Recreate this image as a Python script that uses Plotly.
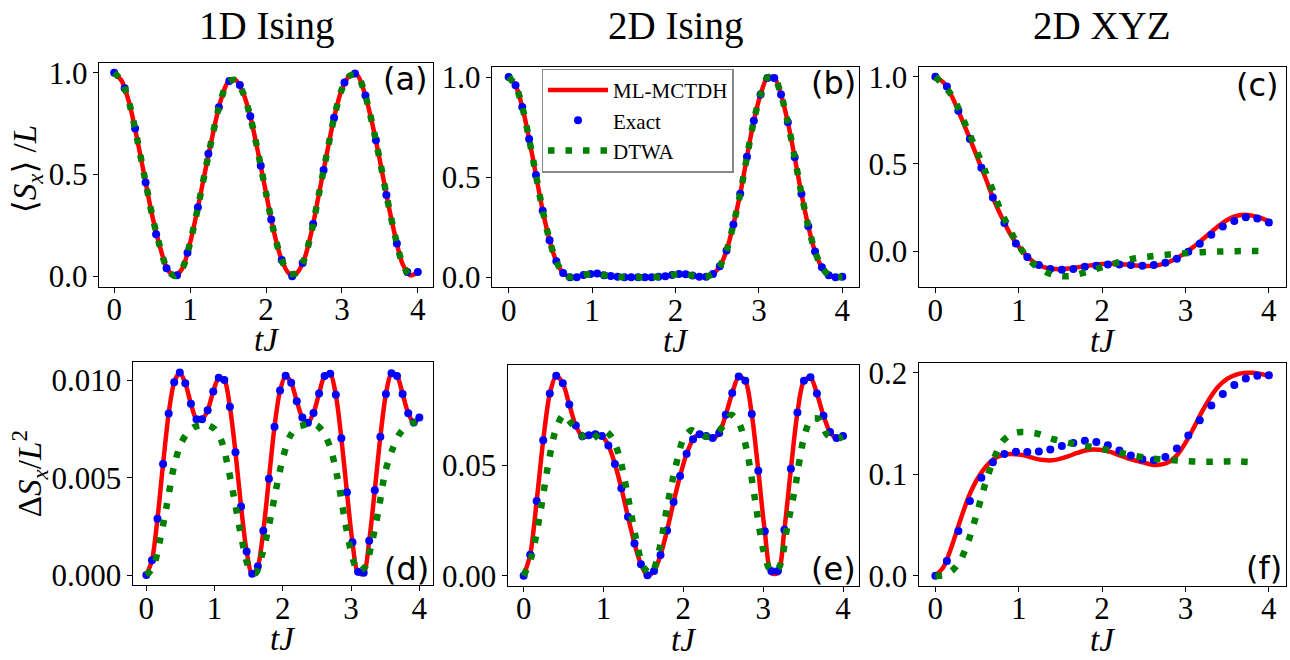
import plotly.graph_objects as go

W, H = 1290, 660

# ---------------- time grids (tJ) ----------------
T30 = [0.0, 0.138, 0.276, 0.414, 0.552, 0.69, 0.828, 0.966, 1.103, 1.241, 1.379, 1.517,
       1.655, 1.793, 1.931, 2.069, 2.207, 2.345, 2.483, 2.621, 2.759, 2.897, 3.034, 3.172,
       3.31, 3.448, 3.586, 3.724, 3.862, 4.0]
T50 = [0.0, 0.082, 0.163, 0.245, 0.327, 0.408, 0.49, 0.571, 0.653, 0.735, 0.816, 0.898,
       0.98, 1.061, 1.143, 1.224, 1.306, 1.388, 1.469, 1.551, 1.633, 1.714, 1.796, 1.878,
       1.959, 2.041, 2.122, 2.204, 2.286, 2.367, 2.449, 2.531, 2.612, 2.694, 2.776, 2.857,
       2.939, 3.02, 3.102, 3.184, 3.265, 3.347, 3.429, 3.51, 3.592, 3.673, 3.755, 3.837,
       3.918, 4.0]
T41 = [0.0, 0.1, 0.2, 0.3, 0.4, 0.5, 0.6, 0.7, 0.8, 0.9, 1.0, 1.1, 1.2, 1.3, 1.4, 1.5,
       1.6, 1.7, 1.8, 1.9, 2.0, 2.1, 2.2, 2.3, 2.4, 2.5, 2.6, 2.7, 2.8, 2.9, 3.0, 3.1, 3.2,
       3.3, 3.4, 3.5, 3.6, 3.7, 3.8, 3.9, 4.0]
T21 = [0.0, 0.2, 0.4, 0.6, 0.8, 1.0, 1.2, 1.4, 1.6, 1.8, 2.0, 2.2, 2.4, 2.6, 2.8, 3.0,
       3.2, 3.4, 3.6, 3.8, 4.0]
TF_DTWA = [0.0, 0.1, 0.2, 0.3, 0.4, 0.5, 0.6, 0.7, 0.8, 0.9, 1.0, 1.2, 1.4, 1.6, 1.8, 2.0,
           2.2, 2.4, 2.6, 2.8, 3.0, 3.2, 3.4, 3.6, 3.84]

# ---------------- (a) 1D Ising <Sx>/L ----------------
A_MCTDH = [1.0, 0.96, 0.85, 0.68, 0.49, 0.30, 0.15, 0.035, 0.002, 0.04, 0.165, 0.333, 0.52,
           0.70, 0.86, 0.955, 0.965, 0.90, 0.775, 0.60, 0.41, 0.225, 0.088, 0.015, 0.015,
           0.08, 0.22, 0.41, 0.60, 0.785, 0.92, 0.985, 0.99, 0.90, 0.75, 0.57, 0.375, 0.20,
           0.06, 0.005, 0.02]
A_EXACT = [1.0, 0.925, 0.726, 0.461, 0.207, 0.040, 0.005, 0.116, 0.339, 0.602, 0.831, 0.960,
           0.941, 0.787, 0.543, 0.279, 0.080, 0.0, 0.066, 0.257, 0.522, 0.780, 0.953, 0.997,
           0.889, 0.669, 0.400, 0.161, 0.021, 0.021]
A_DTWA = [1.0, 0.96, 0.85, 0.68, 0.49, 0.30, 0.15, 0.035, 0.002, 0.04, 0.165, 0.333, 0.52,
          0.70, 0.86, 0.955, 0.965, 0.90, 0.775, 0.60, 0.41, 0.225, 0.088, 0.015, 0.015,
          0.08, 0.22, 0.41, 0.60, 0.785, 0.92, 0.985, 0.99, 0.90, 0.75, 0.57, 0.375, 0.20,
          0.06, 0.005, 0.02]

# ---------------- (b) 2D Ising <Sx>/L ----------------
B_EXACT = [1.0, 0.959, 0.851, 0.691, 0.511, 0.332, 0.185, 0.079, 0.021, 0.0, 0.0, 0.011,
           0.016, 0.018, 0.010, 0.0065, 0.002, 0.0, 0.0, 0.0, 0.0, 0.0, 0.002, 0.005, 0.011,
           0.016, 0.015, 0.008, 0.002, 0.002, 0.016, 0.054, 0.133, 0.263, 0.417, 0.602,
           0.782, 0.913, 0.995, 0.995, 0.913, 0.774, 0.599, 0.417, 0.255, 0.128, 0.049,
           0.010, 0.0, 0.002]
B_MCTDH = [1.0, 0.959, 0.851, 0.691, 0.511, 0.332, 0.185, 0.079, 0.021, 0.0, 0.0, 0.011,
           0.016, 0.018, 0.010, 0.0065, 0.002, 0.0, 0.0, 0.0, 0.0, 0.0, 0.002, 0.005, 0.011,
           0.016, 0.015, 0.008, 0.002, 0.002, 0.016, 0.054, 0.133, 0.263, 0.417, 0.602,
           0.782, 0.913, 0.998, 0.998, 0.913, 0.774, 0.599, 0.417, 0.255, 0.128, 0.049,
           0.010, 0.0, 0.002]
B_DTWA = [1.0, 0.959, 0.851, 0.691, 0.511, 0.332, 0.185, 0.079, 0.021, 0.0, 0.0, 0.011,
          0.016, 0.018, 0.010, 0.0065, 0.002, 0.0, 0.0, 0.0, 0.0, 0.0, 0.002, 0.005, 0.011,
          0.016, 0.015, 0.008, 0.002, 0.002, 0.016, 0.054, 0.133, 0.263, 0.417, 0.602,
          0.782, 0.913, 0.998, 0.998, 0.913, 0.774, 0.599, 0.417, 0.255, 0.128, 0.049,
          0.010, 0.0, 0.002]

# ---------------- (c) 2D XYZ <Sx>/L ----------------
C_MCTDH = [1.0, 0.965, 0.885, 0.775, 0.66, 0.54, 0.42, 0.295, 0.19, 0.095, 0.025, -0.03,
           -0.07, -0.092, -0.102, -0.104, -0.10, -0.094, -0.087, -0.08, -0.075, -0.073,
           -0.074, -0.078, -0.083, -0.086, -0.085, -0.078, -0.063, -0.04, -0.01, 0.025,
           0.065, 0.105, 0.145, 0.178, 0.20, 0.208, 0.203, 0.19, 0.17]
C_EXACT = [1.0, 0.944, 0.804, 0.643, 0.477, 0.307, 0.161, 0.043, -0.034, -0.080, -0.103,
           -0.107, -0.103, -0.090, -0.084, -0.077, -0.077, -0.080, -0.084, -0.080, -0.067,
           -0.045, -0.004, 0.041, 0.093, 0.140, 0.172, 0.193, 0.187, 0.164]
C_DTWA = [1.0, 0.89, 0.68, 0.455, 0.215, 0.03, -0.085, -0.135, -0.145, -0.122, -0.092,
          -0.064, -0.042, -0.03, -0.02, -0.013, -0.007, -0.003, -0.001, 0.0, 0.0]

# ---------------- (d) 1D Ising dSx/L^2 ----------------
D_EXACT = [0.0, 0.00076, 0.0029, 0.0057, 0.0083, 0.0099, 0.0104, 0.00985, 0.0088, 0.0080,
           0.0080, 0.00846, 0.00943, 0.01013, 0.01002, 0.00864, 0.00631, 0.00352, 0.00121,
           0.00007, 0.00045, 0.00228, 0.00495, 0.00762, 0.00948, 0.01023, 0.00988, 0.00893,
           0.00809, 0.00782, 0.00832, 0.00933, 0.01022, 0.01034, 0.00926, 0.00703, 0.00426,
           0.00169, 0.00017, 0.00012, 0.00176, 0.00436, 0.00711, 0.0093, 0.01037, 0.01022,
           0.0093, 0.00831, 0.00784, 0.00809]
D_MCTDH = [0.0, 0.00076, 0.0029, 0.0057, 0.0083, 0.0099, 0.0104, 0.00985, 0.0088, 0.0080,
           0.0080, 0.00846, 0.00943, 0.01013, 0.01002, 0.00864, 0.00631, 0.00352, 0.00121,
           0.00002, 0.00045, 0.00228, 0.00495, 0.00762, 0.00948, 0.01023, 0.00988, 0.00893,
           0.00809, 0.00782, 0.00832, 0.00933, 0.01022, 0.01034, 0.00926, 0.00703, 0.00426,
           0.00169, 0.0001, 0.00008, 0.00176, 0.00436, 0.00711, 0.0093, 0.01037, 0.01022,
           0.0093, 0.00831, 0.00784, 0.00809]
D_DTWA = [0.0, 0.0004, 0.0018, 0.0036, 0.0055, 0.0067, 0.0073, 0.0076, 0.0077, 0.0077,
          0.0075, 0.0069, 0.0055, 0.0037, 0.0018, 0.0004, 0.0001, 0.0011, 0.0026, 0.0044,
          0.0060, 0.0071, 0.0076, 0.0077, 0.0078, 0.0077, 0.0073, 0.0065, 0.0050, 0.0030,
          0.0012, 0.0002, 0.0004, 0.0016, 0.0033, 0.0053, 0.0064, 0.0072, 0.0076, 0.0078,
          0.0079]

# ---------------- (e) 2D Ising dSx/L^2 ----------------
E_EXACT = [0.0, 0.0096, 0.0339, 0.0615, 0.0826, 0.0907, 0.0873, 0.0777, 0.0681, 0.0633,
           0.0637, 0.0642, 0.0634, 0.0591, 0.0507, 0.0397, 0.0268, 0.0147, 0.0052, 0.0003,
           0.0022, 0.0094, 0.0206, 0.0335, 0.0453, 0.0553, 0.0619, 0.0642, 0.0634, 0.0625,
           0.0647, 0.073, 0.0829, 0.0903, 0.0884, 0.0733, 0.0476, 0.0202, 0.0022, 0.0022,
           0.0209, 0.0485, 0.074, 0.0884, 0.090, 0.0826, 0.0726, 0.0652, 0.0625, 0.0634]
E_MCTDH = [0.0, 0.0096, 0.0339, 0.0615, 0.0826, 0.0907, 0.0873, 0.0777, 0.0681, 0.0633,
           0.0637, 0.0642, 0.0634, 0.0591, 0.0507, 0.0397, 0.0268, 0.0147, 0.0052, 0.0001,
           0.0022, 0.0094, 0.0206, 0.0335, 0.0453, 0.0553, 0.0619, 0.0642, 0.0634, 0.0625,
           0.0647, 0.073, 0.0829, 0.0903, 0.0884, 0.0733, 0.0476, 0.0202, 0.0012, 0.0012,
           0.0209, 0.0485, 0.074, 0.0884, 0.090, 0.0826, 0.0726, 0.0652, 0.0625, 0.0634]
E_DTWA = [0.0, 0.009, 0.027, 0.049, 0.066, 0.073, 0.069, 0.065, 0.061, 0.063, 0.066, 0.063,
          0.054, 0.037, 0.018, 0.004, 0.001, 0.012, 0.032, 0.049, 0.062, 0.066, 0.064,
          0.063, 0.064, 0.068, 0.073, 0.069, 0.056, 0.034, 0.012, 0.002, 0.004, 0.022,
          0.040, 0.061, 0.071, 0.071, 0.064, 0.062, 0.063]

# ---------------- (f) 2D XYZ dSx/L^2 ----------------
F_MCTDH = [0.0, 0.009, 0.03, 0.055, 0.078, 0.095, 0.107, 0.115, 0.119, 0.12, 0.1195, 0.118,
           0.1155, 0.114, 0.1138, 0.1155, 0.118, 0.121, 0.1235, 0.1245, 0.124, 0.122, 0.119,
           0.116, 0.1135, 0.1115, 0.1095, 0.1095, 0.112, 0.119, 0.131, 0.146, 0.162, 0.176,
           0.187, 0.194, 0.198, 0.2, 0.2, 0.199, 0.197]
F_EXACT = [0.0, 0.0145, 0.044, 0.0736, 0.0965, 0.1119, 0.1199, 0.1222, 0.1219, 0.1225,
           0.1244, 0.128, 0.1309, 0.1331, 0.1318, 0.1286, 0.1235, 0.1186, 0.1148, 0.1138,
           0.117, 0.1254, 0.1383, 0.1534, 0.1678, 0.1791, 0.1881, 0.1945, 0.1971, 0.1977]
F_DTWA = [0.0, 0.0005, 0.005, 0.015, 0.035, 0.062, 0.091, 0.115, 0.132, 0.139, 0.1415,
          0.1405, 0.135, 0.131, 0.128, 0.125, 0.1215, 0.118, 0.1155, 0.1142, 0.113, 0.1123,
          0.1125, 0.1128, 0.1115]

TITLES = ["1D Ising", "2D Ising", "2D XYZ"]
PANEL_LABELS = ["(a)", "(b)", "(c)", "(d)", "(e)", "(f)"]
X_TICKS = [0, 1, 2, 3, 4]
Y_TICKS_TOP = [0.0, 0.5, 1.0]
Y_TICKS_D = [0.0, 0.005, 0.010]
Y_TICKS_E = [0.0, 0.05]
Y_TICKS_F = [0.0, 0.1, 0.2]

# ---------------- styling / layout ----------------
SERIF = "Liberation Serif, DejaVu Serif, serif"
SANS = "DejaVu Sans, Open Sans, sans-serif"
RED, BLUE, GREEN = "#ff0000", "#0000ff", "#008000"

def fx(p):
    return p / W

def fy(p):
    return 1 - p / H

# pixel boxes: left, right, top, bottom
BOXES = [
    (99, 433, 57, 286),
    (492, 859, 61.5, 286.7),
    (918.7, 1285.5, 61, 286.7),
    (132.7, 433, 363.3, 591.7),
    (507.7, 859, 366.7, 592.3),
    (918.7, 1285.5, 364, 592.3),
]
YRANGES = [(-0.05, 1.05), (-0.05, 1.05), (-0.2075, 1.0575),
           (-0.00052, 0.01094), (-0.00454, 0.0954), (-0.01, 0.21)]
YTICKS = [Y_TICKS_TOP, Y_TICKS_TOP, Y_TICKS_TOP, Y_TICKS_D, Y_TICKS_E, Y_TICKS_F]
YFMT = [".1f", ".1f", ".1f", ".3f", ".2f", ".1f"]

SERIES = [
    (T41, A_MCTDH, T30, A_EXACT, T41, A_DTWA),
    (T50, B_MCTDH, T50, B_EXACT, T50, B_DTWA),
    (T41, C_MCTDH, T30, C_EXACT, T21, C_DTWA),
    (T50, D_MCTDH, T50, D_EXACT, T41, D_DTWA),
    (T50, E_MCTDH, T50, E_EXACT, T41, E_DTWA),
    (T41, F_MCTDH, T30, F_EXACT, TF_DTWA, F_DTWA),
]

fig = go.Figure()
layout = {}
for k, (box, ser) in enumerate(zip(BOXES, SERIES)):
    n = k + 1
    sfx = "" if n == 1 else str(n)
    xa, ya = "x" + sfx, "y" + sfx
    show = (n == 2)
    tm, ym, te, ye, tg, yg = ser
    fig.add_trace(go.Scatter(x=tm, y=ym, mode="lines", name="ML-MCTDH",
                             line=dict(color=RED, width=4.5, shape="spline", smoothing=0.8),
                             xaxis=xa, yaxis=ya, showlegend=show))
    fig.add_trace(go.Scatter(x=te, y=ye, mode="markers", name="Exact",
                             marker=dict(color=BLUE, size=8, line=dict(width=0)),
                             xaxis=xa, yaxis=ya, showlegend=show))
    fig.add_trace(go.Scatter(x=tg, y=yg, mode="lines", name="DTWA",
                             line=dict(color=GREEN, width=6.5, dash="6.5px,11px",
                                       shape="spline", smoothing=0.8),
                             xaxis=xa, yaxis=ya, showlegend=show))
    l, r, t, b = box
    common = dict(showline=True, mirror=True, linecolor="black", linewidth=1.4,
                  ticks="outside", ticklen=5, tickwidth=1.1, tickcolor="black",
                  showgrid=False, zeroline=False,
                  tickfont=dict(family=SERIF, size=31, color="black"))
    layout["xaxis" + sfx] = dict(domain=[fx(l), fx(r)], range=[-0.2, 4.2],
                                 tickvals=X_TICKS, anchor=ya, ticklabelstandoff=-10, **common)
    layout["yaxis" + sfx] = dict(domain=[fy(b), fy(t)], range=list(YRANGES[k]),
                                 tickvals=YTICKS[k], tickformat=YFMT[k], anchor=xa,
                                 ticklabelstandoff=-1, **common)

ann = []
# column titles
for title, box in zip(TITLES, BOXES[:3]):
    cx = (box[0] + box[1]) / 2
    ann.append(dict(text=title, x=fx(cx), y=fy(19), xref="paper", yref="paper",
                    xanchor="center", yanchor="middle", showarrow=False,
                    font=dict(family=SERIF, size=39, color="black")))
# x-axis titles
for box in BOXES:
    cx = (box[0] + box[1]) / 2
    ann.append(dict(text="<i>tJ</i>", x=fx(cx), y=fy(box[3] + 55), xref="paper", yref="paper",
                    xanchor="center", yanchor="middle", showarrow=False,
                    font=dict(family=SERIF, size=33, color="black")))
# y-axis titles
ann.append(dict(text="⟨<i>S<sub>x</sub></i>⟩ /<i>L</i>", x=fx(27), y=fy(166),
                xref="paper", yref="paper", xanchor="center", yanchor="middle",
                textangle=-90, showarrow=False,
                font=dict(family=SERIF, size=33, color="black")))
ann.append(dict(text="Δ<i>S<sub>x</sub></i>/<i>L</i><sup>2</sup>", x=fx(29), y=fy(478),
                xref="paper", yref="paper", xanchor="center", yanchor="middle",
                textangle=-90, showarrow=False,
                font=dict(family=SERIF, size=33, color="black")))
# panel labels
LABEL_POS = [(430, 74), (858, 78), (1281, 80), (431, 575), (858, 575), (1284, 574)]
for lab, (px_, py_) in zip(PANEL_LABELS, LABEL_POS):
    ann.append(dict(text=lab, x=fx(px_), y=fy(py_), xref="paper", yref="paper",
                    xanchor="right", yanchor="middle", showarrow=False,
                    font=dict(family=SANS, size=32, color="black")))

fig.update_layout(
    width=W, height=H, margin=dict(l=0, r=0, t=0, b=0),
    paper_bgcolor="white", plot_bgcolor="white",
    annotations=ann,
    showlegend=True,
    legend=dict(x=fx(541.7), y=fy(63), xanchor="left", yanchor="top",
                bgcolor="white", bordercolor="#888888", borderwidth=1.3,
                font=dict(family=SERIF, size=21, color="black"),
                itemwidth=60, tracegroupgap=0),
    **layout,
)

fig.write_html("out.html", config={"displayModeBar": False},
               post_script="document.body.style.margin='0';")
